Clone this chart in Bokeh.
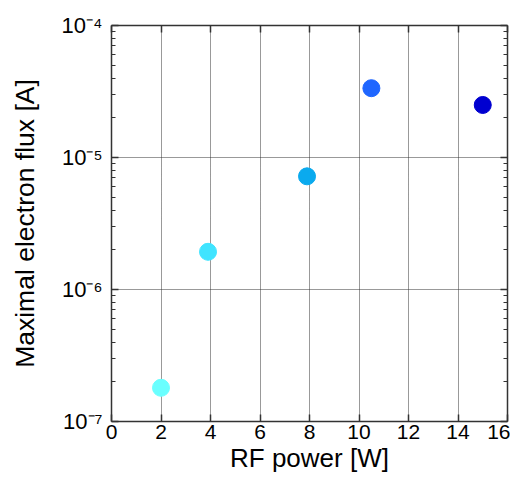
from bokeh.plotting import figure
from bokeh.models import LogAxis, LinearAxis, FixedTicker, Range1d, ColumnDataSource
from bokeh.embed import file_html
from bokeh.resources import INLINE

# Data
rf_power = [2.0, 3.9, 7.9, 10.5, 15.0]
electron_flux = [1.8e-7, 1.93e-6, 7.2e-6, 3.35e-5, 2.5e-5]
point_colors = ["#6AFFFF", "#40E4FF", "#0AAAEE", "#1F66FF", "#0000D0"]
x_ticks = [0, 2, 4, 6, 8, 10, 12, 14, 16]
y_exponents = [-7, -6, -5, -4]
y_tick_labels = ["10\u207b\u2077", "10\u207b\u2076", "10\u207b\u2075", "10\u207b\u2074"]

FONT = "Liberation Sans"

y_major = [10.0 ** e for e in y_exponents]
y_minor = [m * 10.0 ** e for e in y_exponents[:-1] for m in range(2, 10)]

p = figure(frame_width=396, frame_height=396, y_axis_type="log",
           x_range=Range1d(0, 16), y_range=Range1d(1e-7, 1e-4),
           output_backend="svg", toolbar_location=None,
           min_border_left=111, min_border_right=3, min_border_top=25, min_border_bottom=58)
p.outline_line_color = None
p.background_fill_color = "white"
p.border_fill_color = "white"

src = ColumnDataSource(dict(x=rf_power, y=electron_flux, c=point_colors))
p.scatter("x", "y", source=src, size=17, fill_color="c", line_color="c")

xt = FixedTicker(ticks=x_ticks, minor_ticks=[])
yt = FixedTicker(ticks=y_major, minor_ticks=y_minor)

def style(ax, labels=True):
    ax.axis_line_color = "#333333"
    ax.axis_line_width = 1.5
    ax.major_tick_line_color = "#333333"
    ax.minor_tick_line_color = "#333333"
    ax.major_tick_line_width = 1.5
    ax.minor_tick_line_width = 1.2
    ax.major_tick_in = 7
    ax.major_tick_out = 0
    ax.minor_tick_in = 4
    ax.minor_tick_out = 0
    ax.major_label_text_font = FONT
    ax.major_label_text_font_size = "21px"
    ax.major_label_text_color = "black"
    ax.axis_label_text_font = FONT
    ax.axis_label_text_font_size = "26px"
    ax.axis_label_text_font_style = "normal"
    ax.axis_label_text_color = "black"
    if not labels:
        ax.major_label_text_font_size = "1px"
        ax.major_label_text_color = None
        ax.major_label_standoff = 0

xa = p.xaxis[0]
xa.ticker = xt
xa.axis_label = "RF power [W]"
style(xa)
xa.major_label_standoff = 3
xa.axis_label_standoff = 1

ya = p.yaxis[0]
ya.ticker = yt
ya.axis_label = "Maximal electron flux [A]"
ya.major_label_overrides = {v: s for v, s in zip(y_major, y_tick_labels)}
style(ya)
ya.major_label_text_font_size = "22px"
ya.major_label_standoff = 9
ya.axis_label_standoff = 19
ya.axis_label_text_font_size = "26.5px"

top = LinearAxis(ticker=xt)
style(top, labels=False)
p.add_layout(top, "above")

right = LogAxis(ticker=yt)
style(right, labels=False)
p.add_layout(right, "right")

p.xgrid.ticker = xt
p.ygrid.ticker = FixedTicker(ticks=y_major)
for g in (p.xgrid[0], p.ygrid[0]):
    g.grid_line_color = "#333333"
    g.grid_line_dash = "1 1"
    g.grid_line_width = 1

open("out.html", "w").write(file_html(p, INLINE))
